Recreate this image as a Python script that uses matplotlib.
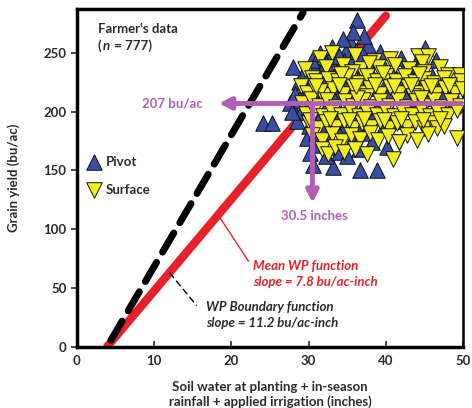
import matplotlib.pyplot as plt
import numpy as np

# farmer's data (inches, bu/ac)
pivot_x = [36.3, 24.1, 25.2, 30.6, 33.2, 36.7, 38.8, 40.1, 45.1, 46.5, 39.2, 37.7, 35.5, 34.8, 33.5,
           32.6, 31.8, 30.8, 32.1, 28.8, 27.6, 28.2, 29.5, 30.2, 31.0, 32.8, 33.9, 34.6, 35.8, 36.9,
           37.8, 38.6, 39.8, 41.0, 42.3, 43.5, 44.8, 46.0, 47.2, 48.5, 35.2, 36.4, 33.0, 34.2, 31.6,
           29.0, 28.5, 30.0, 29.8, 31.2, 32.5, 33.6, 34.5, 35.6, 36.8, 37.4, 38.5, 39.6, 40.8, 41.6,
           42.8, 44.0, 45.2, 46.4, 47.6, 48.8, 30.9, 32.0, 33.4, 34.8, 36.0, 37.2, 38.3, 39.5, 40.6,
           41.8, 43.0, 44.2, 29.3, 28.0, 30.5, 31.5, 33.0, 34.0, 36.2, 37.0, 38.0, 40.2, 31.8, 33.8,
           35.4, 30.2, 32.2, 34.0, 35.0, 36.5, 38.2, 27.8, 29.0, 31.3, 32.3, 35.0, 43.8, 42.0, 37.2,
           35.8, 34.5, 30.0, 31.0, 32.0, 33.0, 34.0, 35.0, 29.5, 31.5, 33.5]
pivot_y = [278, 190, 190, 155, 153, 150, 150, 170, 254, 244, 251, 257, 258, 252, 250,
           246, 240, 237, 236, 225, 207, 215, 218, 226, 222, 230, 238, 243, 246, 240,
           236, 243, 238, 232, 236, 228, 224, 230, 226, 219, 232, 228, 224, 218, 212,
           200, 192, 188, 178, 172, 180, 170, 186, 176, 190, 182, 196, 186, 200, 192,
           206, 198, 212, 204, 214, 208, 196, 203, 208, 200, 214, 206, 220, 212, 218,
           222, 216, 210, 232, 238, 244, 250, 255, 247, 252, 248, 230, 226, 190, 194,
           196, 165, 162, 166, 162, 168, 174, 200, 210, 230, 241, 237, 240, 246, 264,
           268, 262, 204, 182, 226, 214, 234, 222, 220, 198, 186]

surface_x = [31.5, 33.0, 36.0, 40.5, 44.2, 45.5, 44.7, 38.5,
             29.5, 30.4, 32.2, 34.5, 36.8, 39.0, 41.2, 43.0, 45.0, 47.0, 48.1, 49.6, 37.8, 35.6,
             29.0, 31.0, 32.5, 33.8, 35.0, 36.5, 37.6, 38.8, 40.0, 41.3, 42.5, 43.8, 45.0, 46.3,
             47.5, 48.7, 49.8, 34.2, 39.6, 44.3,
             29.8, 30.8, 32.0, 33.2, 34.5, 35.7, 36.9, 38.0, 39.3, 40.5, 41.7, 42.9, 44.1, 45.3,
             46.5, 47.7, 48.9, 49.9, 31.5, 37.5, 43.5,
             29.2, 30.3, 31.3, 32.4, 33.5, 34.7, 35.8, 37.0, 38.1, 39.3, 40.4, 41.6, 42.7, 43.9,
             45.0, 46.2, 47.3, 48.5, 49.6, 36.3, 44.5,
             29.6, 30.7, 31.9, 33.0, 34.2, 35.3, 36.5, 37.6, 38.8, 39.9, 41.1, 42.2, 43.4, 44.5,
             45.7, 46.8, 48.0, 49.2,
             30.0, 31.2, 32.3, 33.5, 34.6, 35.8, 36.9, 38.1, 39.2, 40.4, 41.5, 42.7, 43.8, 45.0,
             46.1, 46.6, 47.5,
             30.5, 31.8, 33.0, 34.3, 35.5, 36.6, 37.9, 39.0, 40.3, 41.7, 42.8, 44.0, 45.5, 49.2,
             31.8, 32.5, 33.4, 34.6, 36.0, 37.5, 40.9, 41.7,
             30.2, 32.8, 35.2, 37.2, 39.8, 42.0, 44.8, 47.0, 31.0, 34.0, 36.2, 38.6, 41.0, 43.2,
             45.8, 48.2]
surface_y = [246, 250, 248, 245, 247, 247, 242, 243,
             236, 229, 238, 240, 236, 238, 240, 236, 234, 238, 231, 231, 241, 234,
             222, 226, 228, 226, 230, 224, 230, 226, 230, 226, 230, 225, 228, 224,
             229, 223, 226, 232, 233, 232,
             216, 220, 214, 219, 215, 221, 216, 220, 215, 221, 216, 221, 216, 220,
             215, 220, 216, 219, 218, 213, 213,
             207, 211, 205, 210, 204, 209, 205, 210, 204, 209, 205, 210, 204, 209,
             205, 210, 204, 209, 205, 212, 212,
             198, 201, 196, 200, 197, 202, 196, 200, 197, 202, 196, 200, 197, 202,
             196, 200, 197, 201,
             190, 186, 191, 187, 192, 186, 190, 187, 192, 186, 190, 187, 191, 186,
             190, 186, 188,
             180, 176, 181, 175, 180, 177, 182, 176, 179, 174, 180, 176, 181, 178,
             168, 164, 170, 166, 168, 164, 160, 174,
             193, 194, 193, 194, 193, 194, 193, 194, 222, 223, 222, 223, 222, 223,
             222, 223]

mean_slope = 7.8
boundary_slope = 11.2
x_intercept = 3.9
mean_yield = 207
mean_water = 30.5

dark = "#2b2b2b"
purple = "#b25db8"
plt.rcParams["font.family"] = ["Lato", "DejaVu Sans"]

fig = plt.figure(figsize=(4.72, 4.08), dpi=100)
ax = fig.add_axes([0.163, 0.150, 0.818, 0.827])

# water productivity lines
xr = np.array([x_intercept, 40.0])
ax.plot(xr, mean_slope * (xr - x_intercept), color="#e8202a", lw=6, solid_capstyle="round", zorder=2)
xb = np.array([x_intercept + 0.5, 29.3])
ax.plot(xb, boundary_slope * (xb - x_intercept), color="black", lw=5, ls=(0, (3.2, 1.7)),
        dash_capstyle="round", zorder=2)

ax.scatter(pivot_x, pivot_y, marker="^", s=125, c="#3a4ea8", edgecolors="#111111", linewidths=0.7, zorder=3)
ax.scatter(surface_x, surface_y, marker="v", s=125, c="#f2ef1c", edgecolors="#111111", linewidths=0.7, zorder=4)

# mean yield / water arrows
ax.plot([50, mean_water], [mean_yield, mean_yield], color=purple, lw=3.5, zorder=5)
ax.annotate("", xy=(18.0, mean_yield), xytext=(31, mean_yield),
            arrowprops=dict(arrowstyle="-|>,head_length=0.7,head_width=0.35", color=purple, lw=3.5), zorder=5)
ax.annotate("", xy=(mean_water, 120), xytext=(mean_water, mean_yield),
            arrowprops=dict(arrowstyle="-|>,head_length=0.7,head_width=0.35", color=purple, lw=3.5), zorder=5)
ax.text(12.3, mean_yield, "207 bu/ac", color=purple, fontsize=9.5, fontweight="bold", ha="center", va="center")
ax.text(mean_water + 0.2, 111, "30.5 inches", color=purple, fontsize=9.5, fontweight="bold", ha="center", va="center")

# legend-like labels
ax.scatter([2.2], [157], marker="^", s=125, c="#3a4ea8", edgecolors="#111111", linewidths=0.7)
ax.scatter([2.2], [133], marker="v", s=125, c="#f2ef1c", edgecolors="#111111", linewidths=0.7)
ax.text(3.7, 157, "Pivot", color=dark, fontsize=9.5, fontweight="bold", va="center")
ax.text(3.7, 133, "Surface", color=dark, fontsize=9.5, fontweight="bold", va="center")

ax.text(2.7, 270, "Farmer's data", color=dark, fontsize=9.5, fontweight="bold", va="center")
ax.text(2.7, 256, "(", color=dark, fontsize=9.5, fontweight="bold", va="center")
ax.text(3.3, 256, "n", color=dark, fontsize=9.5, fontweight="bold", style="italic", va="center")
ax.text(4.4, 256, " = 777)", color=dark, fontsize=9.5, fontweight="bold", va="center")

ax.plot([18.5, 22.2], [110, 73], color="#e8202a", lw=1)
ax.text(22.8, 69, "Mean WP function", color="#e8202a", fontsize=9.5, fontweight="bold",
        style="italic", va="center")
ax.text(22.8, 55, "slope = 7.8 bu/ac-inch", color="#e8202a", fontsize=9.5, fontweight="bold",
        style="italic", va="center")
ax.plot([12.0, 15.5], [63, 35], color="black", lw=1, ls=(0, (5, 2.5)))
ax.text(16.7, 34, "WP Boundary function", color=dark, fontsize=9.5, fontweight="bold",
        style="italic", va="center")
ax.text(16.7, 20, "slope = 11.2 bu/ac-inch", color=dark, fontsize=9.5, fontweight="bold",
        style="italic", va="center")

ax.set_xlim(0, 50)
ax.set_ylim(0, 287)
ax.set_xticks([0, 10, 20, 30, 40, 50])
ax.set_yticks([0, 50, 100, 150, 200, 250])
ax.tick_params(axis="x", direction="in", length=4, width=1.2, labelsize=9.5, colors=dark, pad=6)
ax.tick_params(axis="y", direction="out", length=4, width=1.2, labelsize=9.5, colors=dark)
for lab in ax.get_xticklabels() + ax.get_yticklabels():
    lab.set_fontweight("bold")
for side in ["left", "bottom", "top"]:
    ax.spines[side].set_linewidth(2.5)
ax.spines["right"].set_linewidth(1.8)

ax.set_xlabel("Soil water at planting + in-season\nrainfall + applied irrigation (inches)",
              fontsize=9.5, fontweight="bold", color=dark, labelpad=10, linespacing=1.25)
ax.set_ylabel("Grain yield (bu/ac)", fontsize=9.5, fontweight="bold", color=dark, labelpad=17)

fig.savefig("out.png", dpi=100)
